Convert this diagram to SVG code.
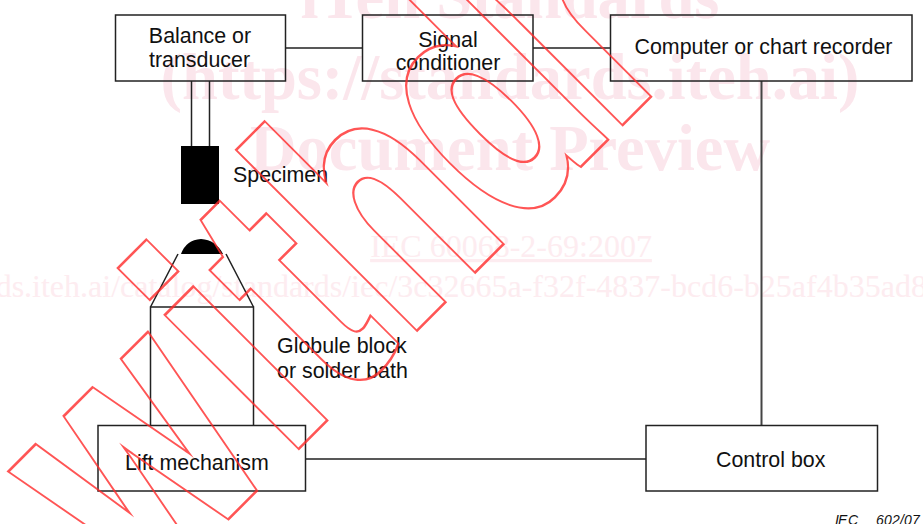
<svg xmlns="http://www.w3.org/2000/svg" width="923" height="524" viewBox="0 0 923 524">
<style>
.box{fill:none;stroke:#222;stroke-width:1.5}
.ln{fill:none;stroke:#222;stroke-width:1.5}
.t{font-family:"Liberation Sans",Arial,sans-serif;font-size:21.4px;fill:#111}
.m{text-anchor:middle}
.wm{font-family:"Liberation Serif","Times New Roman",serif;fill:#fbe6ec;text-anchor:middle}
.b{font-weight:bold;font-size:64.5px}
.r{font-size:32px;fill:#fdecf0}
.red{font-family:"Liberation Sans",Arial,sans-serif;font-weight:bold;font-size:338px;stroke-linejoin:miter;stroke-miterlimit:6}
</style>
<defs>
<mask id="ring" maskUnits="userSpaceOnUse" x="0" y="0" width="923" height="524">
<rect width="923" height="524" fill="#000"/>
<text class="red" fill="#fff" stroke="#fff" stroke-width="13.4" transform="translate(370 370) rotate(-45) scale(.71 1)" x="-453.5 -168 -59 67.6 277 477" y="0">withdr</text>
<text class="red" fill="#000" stroke="#000" stroke-width="8.2" transform="translate(370 370) rotate(-45) scale(.71 1)" x="-453.5 -168 -59 67.6 277 477" y="0">withdr</text>
</mask>
</defs>
<rect width="923" height="524" fill="#fff"/>
<g id="watermark">
<text class="wm b" x="510" y="18">iTeh Standards</text>
<text class="wm b" x="510" y="99">(https://standards.iteh.ai)</text>
<text class="wm b" x="510" y="170">Document Preview</text>
<text class="wm r" x="511" y="257" text-decoration="underline">IEC 60068-2-69:2007</text>
<text class="wm r" x="511" y="297">https://standards.iteh.ai/catalog/standards/iec/3c32665a-f32f-4837-bcd6-b25af4b35ad8/iec-60068-2-69-2007</text>
</g>
<g id="connectors">
<path class="ln" d="M286 48H362M533 48H610M191.500 81V146M209.500 81V146M306 459H646"/>
<path d="M761.500 81V425" fill="none" stroke="#444" stroke-width="2"/>
</g>
<g id="balance"><rect class="box" x="115.500" y="15" width="170" height="66"/><text class="t m" x="200" y="42.500">Balance or</text><text class="t m" x="199.500" y="67">transducer</text></g>
<g id="signal"><rect class="box" x="362.500" y="15" width="170.500" height="66"/><text class="t m" x="448" y="46.500">Signal</text><text class="t m" x="448" y="70">conditioner</text></g>
<g id="computer"><rect class="box" x="610.500" y="15" width="301.500" height="66"/><text class="t m" x="763.500" y="54">Computer or chart recorder</text></g>
<g id="specimen"><rect x="181" y="146" width="38" height="58" fill="#000"/><text class="t" x="233" y="182">Specimen</text></g>
<g id="globule"><path d="M181 254Q186 240 201 239Q216 240 223 254Z" fill="#000"/><path class="ln" d="M178 254L150.500 307M226 254L253.500 307"/><path class="ln" d="M150.500 425V307H253.500V425"/><text class="t" x="277" y="353">Globule block</text><text class="t" x="277" y="378">or solder bath</text></g>
<g id="lift"><rect class="box" x="98" y="425.500" width="207.500" height="65.500"/><text class="t" x="125" y="470">Lift mechanism</text></g>
<g id="control"><rect class="box" x="646" y="425.500" width="231.500" height="65.500"/><text class="t" x="716" y="467">Control box</text></g>
<text x="835 838 848 876 884 892 900 904 912" y="525" font-family="'Liberation Sans',Arial,sans-serif" font-style="italic" font-size="14" fill="#111">IEC602/07</text>
<g id="stamp"><rect width="923" height="524" fill="#ff2a2a" fill-opacity=".8" mask="url(#ring)"/></g>
</svg>
